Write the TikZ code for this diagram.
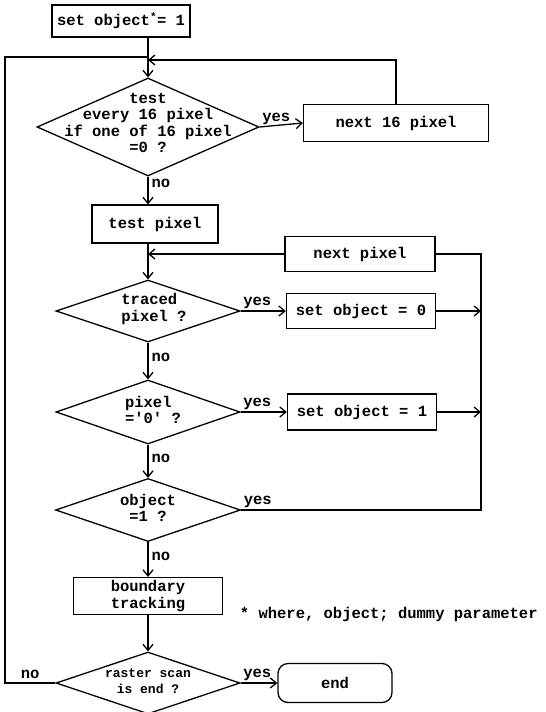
\documentclass[tikz,border=0pt]{standalone}
\usepackage{fontspec}
\setmonofont{Liberation Mono}
\usetikzlibrary{shapes.geometric,arrows.meta}

\begin{document}
\begin{tikzpicture}[x=1pt,y=-1pt,line width=1.3pt,
    every node/.style={font=\ttfamily\bfseries\fontsize{15.5}{16.5}\selectfont},
    box/.style={draw,align=left,inner sep=2pt},
    dec/.style={diamond,draw,inner sep=0pt},
    flow/.style={-{Straight Barb[length=6pt,width=10pt]}},
    yes/.style={above right,inner sep=2pt},
    no/.style={right,pos=0.4,inner sep=3pt}]
  \useasboundingbox (0,0) rectangle (546,712);

  % process boxes
  \node[box,minimum width=138pt,minimum height=32pt] (start) at (121,21) {set object\textsuperscript{*}= 1};
  \node[box,minimum width=185pt,minimum height=37pt] (next16) at (396,123) {next 16 pixel};
  \node[box,minimum width=126pt,minimum height=38pt] (test) at (155,224) {test pixel};
  \node[box,minimum width=150pt,minimum height=35pt] (np) at (360,254) {next pixel};
  \node[box,minimum width=149pt,minimum height=35pt] (set0) at (361,311) {set object = 0};
  \node[box,minimum width=149pt,minimum height=36pt] (set1) at (362,412) {set object = 1};
  \node[box,minimum width=149pt,minimum height=37pt] (bt) at (148,596) {boundary\\tracking};
  \node[draw,rounded corners=10pt,minimum width=114pt,minimum height=39pt] (stop) at (335,683) {end};
  \node[right] (note) at (236,614) {* where, object; dummy parameter};

  % decisions
  \node[dec,minimum width=222pt,minimum height=98pt] (d1) at (148,127) {};
  \node[dec,minimum width=184pt,minimum height=62pt] (d2) at (148,311) {};
  \node[dec,minimum width=184pt,minimum height=64pt] (d3) at (148,412) {};
  \node[dec,minimum width=185pt,minimum height=63pt] (d4) at (148,510) {};
  \node[dec,minimum width=184pt,minimum height=62pt] (d5) at (148,683) {};
  \node[align=center] (t1) at ([yshift=4pt]d1) {test\\every 16 pixel\\if one of 16 pixel\\=0 ?};
  \node[align=left] (t2) at ([xshift=6pt,yshift=2pt]d2) {traced\\pixel ?};
  \node[align=left] (t3) at ([xshift=5pt,yshift=2pt]d3) {pixel\\='0' ?};
  \node[align=center] (t4) at ([yshift=2pt]d4) {object\\=1 ?};
  \node[align=center,font=\ttfamily\bfseries\fontsize{13}{16}\selectfont] (t5) at ([yshift=2pt]d5) {raster scan\\is end ?};

  % connectors
  \coordinate (rail) at (481,254);
  \coordinate (back) at (5,57);
  \coordinate (ret) at (148,60);
  \draw[flow] (start.south -| d1.north) -- (d1.north);
  \draw[flow] (d1.east) node[yes]{yes} -- (next16.west);
  \draw[flow] (next16.north) |- (ret);
  \draw[flow] (d1.south) -- node[no,pos=0.25]{no} (d1.south |- test.north);
  \draw[flow] (test.south -| d2.north) -- (d2.north);
  \draw[flow] (np.west) -- (np.west -| d2.north);
  \draw[flow] (d2.east) node[yes]{yes} -- (set0.west);
  \draw[flow] (set0.east) -- (set0.east -| rail);
  \draw[flow] (d2.south) -- node[no]{no} (d3.north);
  \draw[flow] (d3.east) node[yes]{yes} -- (set1.west);
  \draw[flow] (set1.east) -- (set1.east -| rail);
  \draw[flow] (d3.south) -- node[no]{no} (d4.north);
  \draw (d4.east) node[yes]{yes} -- (d4.east -| rail) -- (rail) -- (np.east);
  \draw[flow] (d4.south) -- node[no]{no} (bt.north);
  \draw[flow] (bt.south) -- (d5.north);
  \draw[flow] (d5.east) node[yes]{yes} -- (stop.west);
  \draw (d5.west) -- node[above]{no} (d5.west -| back) -- (back) -- (back -| d1.north);
\end{tikzpicture}
\end{document}
